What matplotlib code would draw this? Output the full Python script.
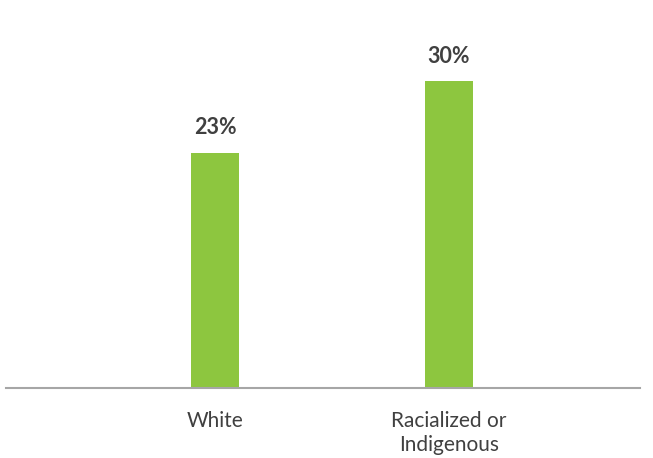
import numpy as np
import matplotlib.pyplot as plt

plt.rcParams['font.family'] = ['Lato', 'DejaVu Sans']

categories = ['White', 'Racialized or\nIndigenous']
values = [23, 30]
labels = ['23%', '30%']

green = '#8DC63F'
text_color = '#404040'

fig = plt.figure(figsize=(6.53, 4.58), dpi=100)
ax = fig.add_axes([6 / 653, 70 / 458, 634 / 653, 378 / 458])

x = np.arange(len(categories))
bars = ax.bar(x, values, width=0.205, color=green)

for b, lab in zip(bars, labels):
    ax.annotate(lab, (b.get_x() + b.get_width() / 2, b.get_height()),
                xytext=(0, 10.5), textcoords='offset points',
                ha='center', va='bottom', fontsize=15.5, fontweight='bold',
                color=text_color)

ax.set_xlim(-0.893, 1.816)
ax.set_ylim(0, 36.95)
ax.set_xticks(x)
ax.set_xticklabels(categories, fontsize=15, color=text_color, linespacing=1.25)
ax.tick_params(axis='x', length=0, pad=16.5)
ax.set_yticks([])
for s in ['top', 'right', 'left']:
    ax.spines[s].set_visible(False)
ax.spines['bottom'].set_color('#A6A6A6')
ax.spines['bottom'].set_linewidth(1.5)

fig.savefig('out.png', dpi=100)
